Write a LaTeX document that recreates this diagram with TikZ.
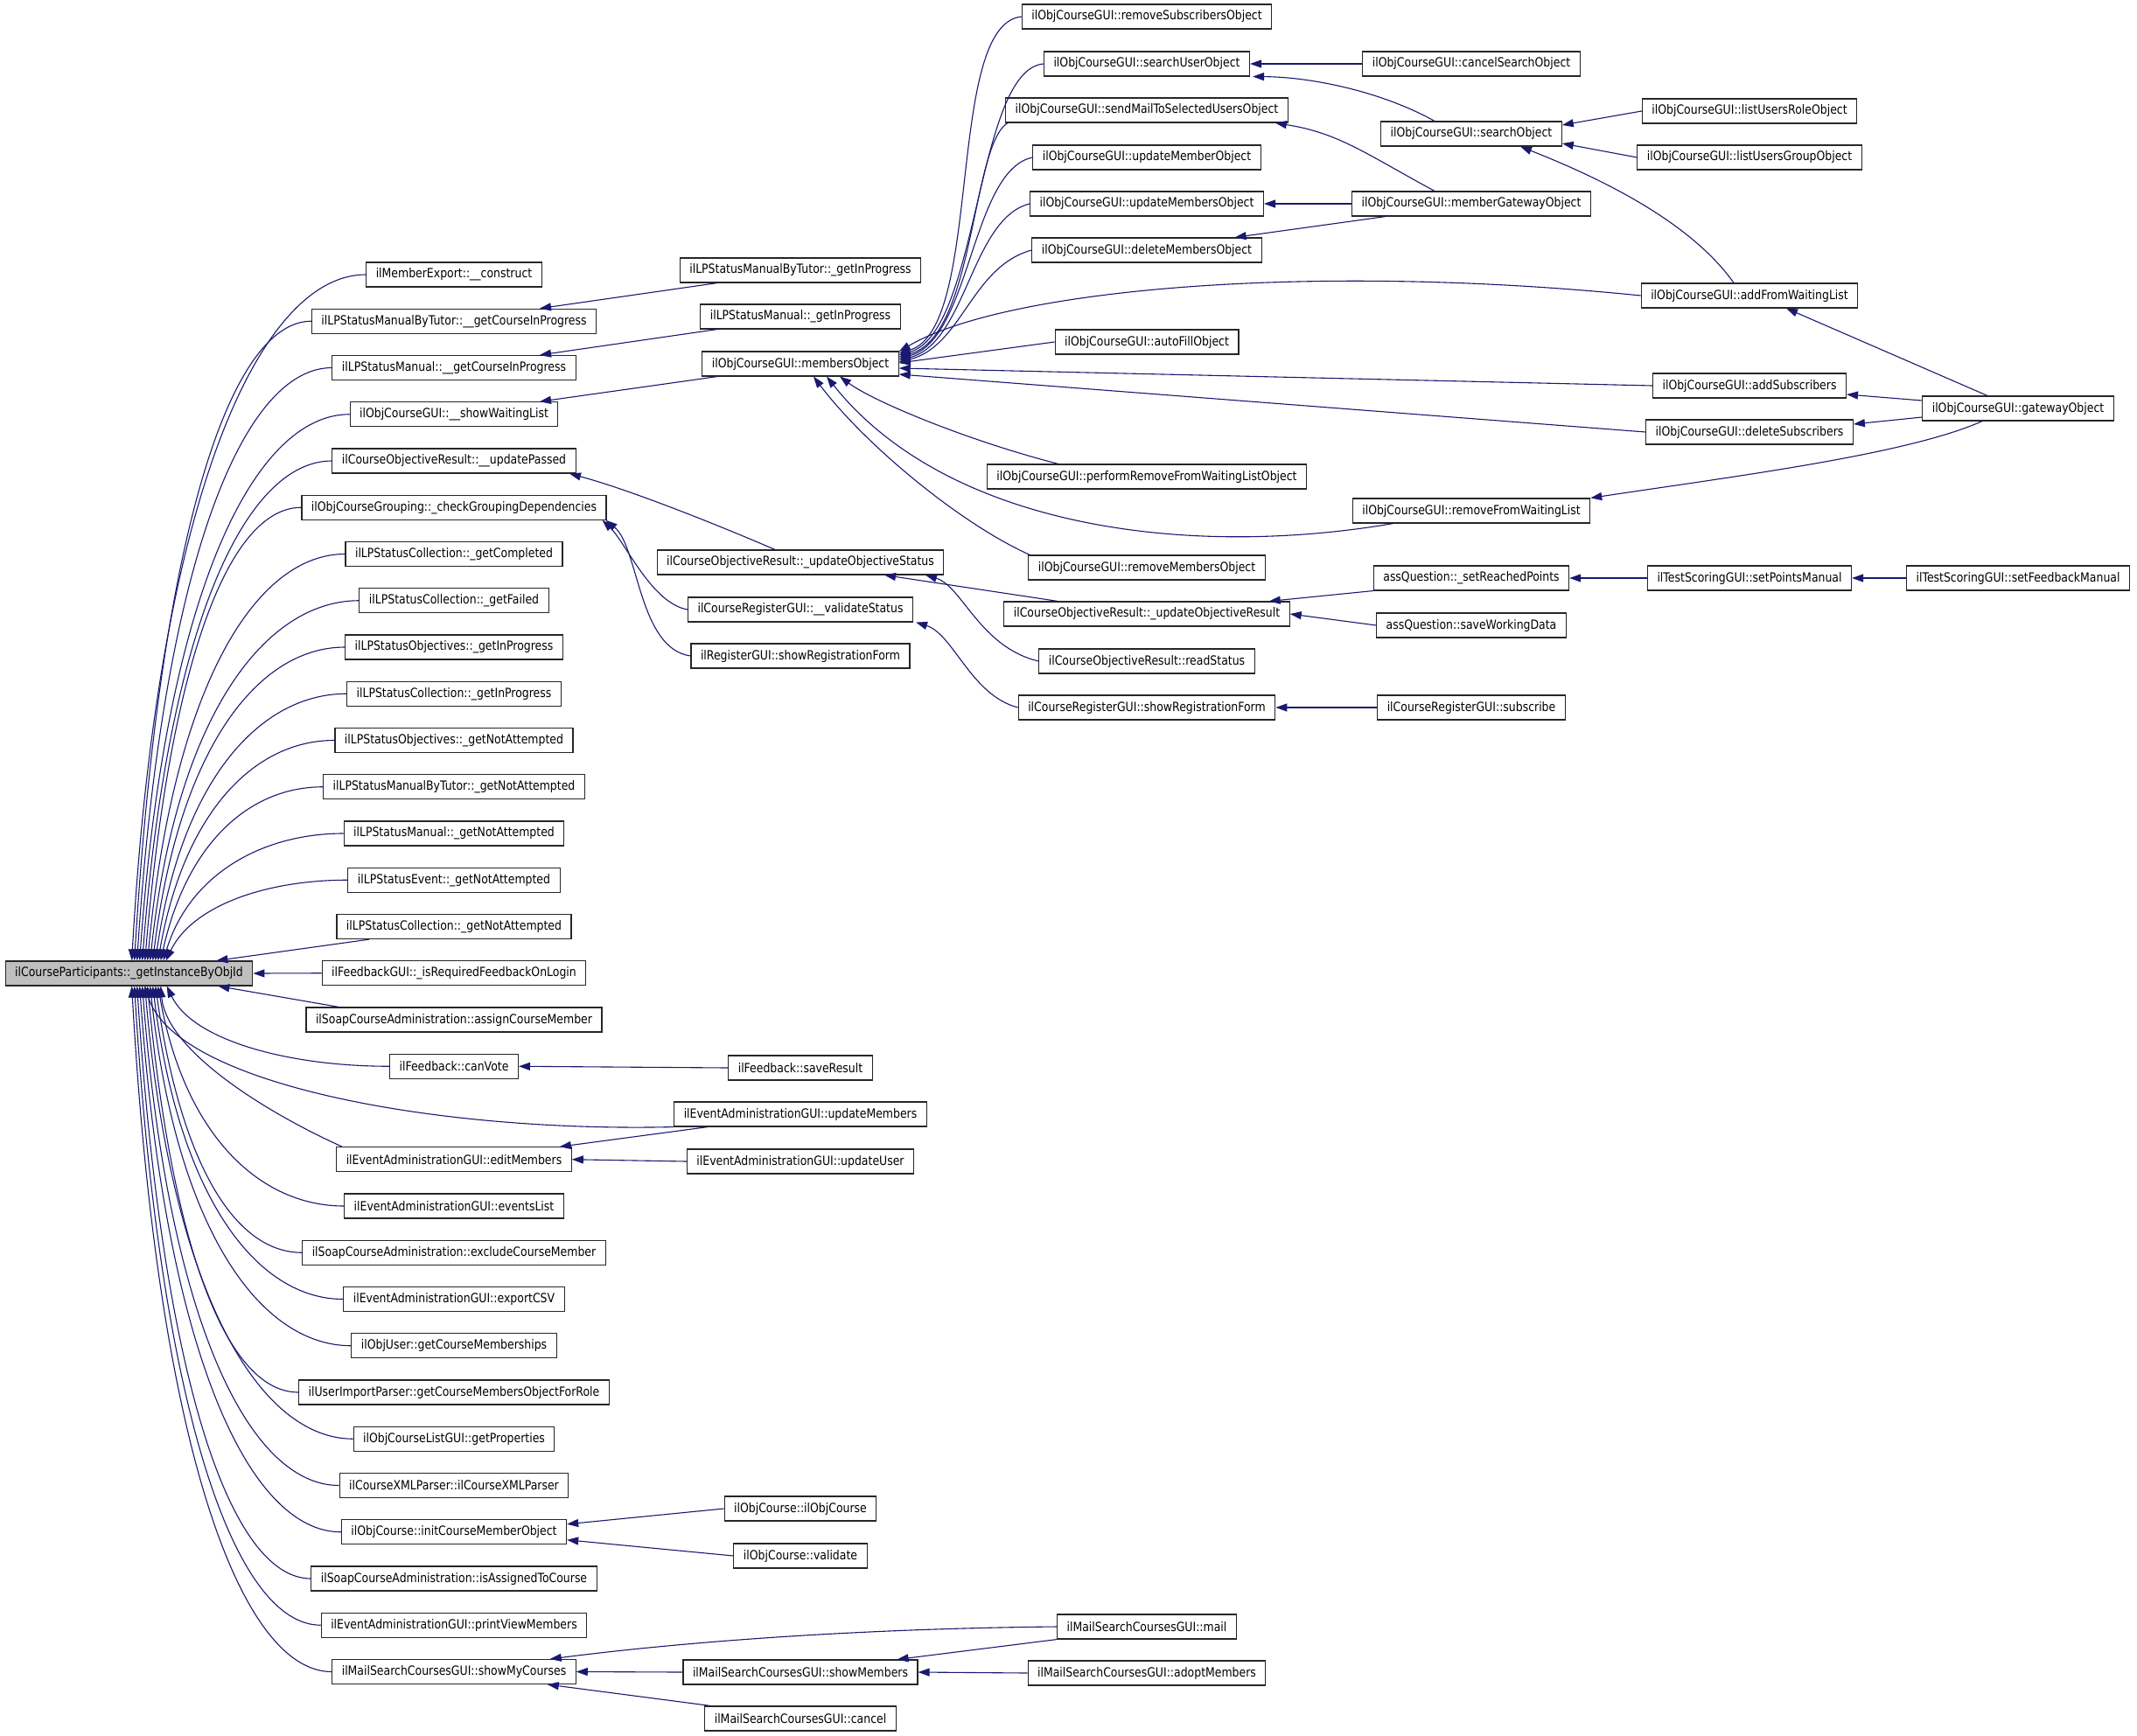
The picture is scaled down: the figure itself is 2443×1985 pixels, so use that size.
\documentclass[tikz,border=0pt]{standalone}
\usepackage{fontspec}
\setmainfont{DejaVu Sans}[FakeStretch=0.86]
\usetikzlibrary{arrows.meta,calc}
\definecolor{edgecol}{HTML}{191970}
\definecolor{rootfill}{HTML}{BFBFBF}
\tikzset{
  box/.style={draw=black!85, line width=1.1pt, fill=white, minimum height=28pt,
    inner xsep=11pt, inner ysep=0pt, font=\fontsize{14.5}{16}\selectfont},
  e/.style={draw=edgecol, line width=1.1pt, -{Triangle[length=13pt,width=9pt,fill=edgecol]}}
}
\newcommand\fan[4]{\draw[e] let \p1=(#1.west), \p2=([xshift=#3pt]root.#2 west) in
  (\p1) .. controls ({\x1-0.45*(\x1-\x2)},\y1) and ({\x2+#4pt},{\y2+0.68*(\y1-\y2)}) .. (\p2);}
\begin{document}
\begin{tikzpicture}[x=1pt,y=-1pt]
\fill[white] (0,0) rectangle (2443,1985);
\useasboundingbox (0,0) rectangle (2443,1985);
% root
\node[box,fill=rootfill] (root) at (147.5,1113) {ilCourseParticipants::\_getInstanceByObjId};
% column 1
\node[box] (c0) at (519,314) {ilMemberExport::\_\_construct};
\node[box] (c1) at (519,367.25) {ilLPStatusManualByTutor::\_\_getCourseInProgress};
\node[box] (c2) at (519,420.5) {ilLPStatusManual::\_\_getCourseInProgress};
\node[box] (c3) at (519,473.75) {ilObjCourseGUI::\_\_showWaitingList};
\node[box] (c4) at (519,527) {ilCourseObjectiveResult::\_\_updatePassed};
\node[box] (c5) at (519,580.25) {ilObjCourseGrouping::\_checkGroupingDependencies};
\node[box] (c6) at (519,633.5) {ilLPStatusCollection::\_getCompleted};
\node[box] (c7) at (519,686.75) {ilLPStatusCollection::\_getFailed};
\node[box] (c8) at (519,740) {ilLPStatusObjectives::\_getInProgress};
\node[box] (c9) at (519,793.25) {ilLPStatusCollection::\_getInProgress};
\node[box] (c10) at (519,846.5) {ilLPStatusObjectives::\_getNotAttempted};
\node[box] (c11) at (519,899.75) {ilLPStatusManualByTutor::\_getNotAttempted};
\node[box] (c12) at (519,953) {ilLPStatusManual::\_getNotAttempted};
\node[box] (c13) at (519,1006.25) {ilLPStatusEvent::\_getNotAttempted};
\node[box] (c14) at (519,1059.5) {ilLPStatusCollection::\_getNotAttempted};
\node[box] (c15) at (519,1112.75) {ilFeedbackGUI::\_isRequiredFeedbackOnLogin};
\node[box] (c16) at (519,1166) {ilSoapCourseAdministration::assignCourseMember};
\node[box] (c17) at (519,1219.25) {ilFeedback::canVote};
\node[box] (c19) at (519,1325.75) {ilEventAdministrationGUI::editMembers};
\node[box] (c20) at (519,1379) {ilEventAdministrationGUI::eventsList};
\node[box] (c21) at (519,1432.25) {ilSoapCourseAdministration::excludeCourseMember};
\node[box] (c22) at (519,1485.5) {ilEventAdministrationGUI::exportCSV};
\node[box] (c23) at (519,1538.75) {ilObjUser::getCourseMemberships};
\node[box] (c24) at (519,1592) {ilUserImportParser::getCourseMembersObjectForRole};
\node[box] (c25) at (519,1645.25) {ilObjCourseListGUI::getProperties};
\node[box] (c26) at (519,1698.5) {ilCourseXMLParser::ilCourseXMLParser};
\node[box] (c27) at (519,1751.75) {ilObjCourse::initCourseMemberObject};
\node[box] (c28) at (519,1805) {ilSoapCourseAdministration::isAssignedToCourse};
\node[box] (c29) at (519,1858.25) {ilEventAdministrationGUI::printViewMembers};
\node[box] (c30) at (519,1911.5) {ilMailSearchCoursesGUI::showMyCourses};
% column 2
\node[box] (mbtGIP) at (915,309) {ilLPStatusManualByTutor::\_getInProgress};
\node[box] (manGIP) at (915,362) {ilLPStatusManual::\_getInProgress};
\node[box] (members) at (915,416) {ilObjCourseGUI::membersObject};
\node[box] (updObjStatus) at (915,643) {ilCourseObjectiveResult::\_updateObjectiveStatus};
\node[box] (validateStatus) at (915,697) {ilCourseRegisterGUI::\_\_validateStatus};
\node[box] (regShowForm) at (915,750) {ilRegisterGUI::showRegistrationForm};
\node[box] (saveResult) at (915,1221) {ilFeedback::saveResult};
\node[box] (updMembers) at (915,1274) {ilEventAdministrationGUI::updateMembers};
\node[box] (updUser) at (915,1328) {ilEventAdministrationGUI::updateUser};
\node[box] (objCourse) at (915,1725) {ilObjCourse::ilObjCourse};
\node[box] (validate) at (915,1779) {ilObjCourse::validate};
\node[box] (showMembers) at (915,1912) {ilMailSearchCoursesGUI::showMembers};
\node[box] (cancel) at (915,1965) {ilMailSearchCoursesGUI::cancel};
% column 3
\node[box] (removeSubs) at (1311,19) {ilObjCourseGUI::removeSubscribersObject};
\node[box] (searchUser) at (1311,73) {ilObjCourseGUI::searchUserObject};
\node[box] (sendMail) at (1311,126) {ilObjCourseGUI::sendMailToSelectedUsersObject};
\node[box] (updMember) at (1311,180) {ilObjCourseGUI::updateMemberObject};
\node[box] (updMembersObj) at (1311,233) {ilObjCourseGUI::updateMembersObject};
\node[box] (delMembers) at (1311,286) {ilObjCourseGUI::deleteMembersObject};
\node[box] (autoFill) at (1311,391) {ilObjCourseGUI::autoFillObject};
\node[box] (perfRemove) at (1311,545) {ilObjCourseGUI::performRemoveFromWaitingListObject};
\node[box] (removeMembers) at (1311,649) {ilObjCourseGUI::removeMembersObject};
\node[box] (updObjResult) at (1311,702) {ilCourseObjectiveResult::\_updateObjectiveResult};
\node[box] (readStatus) at (1311,756) {ilCourseObjectiveResult::readStatus};
\node[box] (crShowForm) at (1311,809) {ilCourseRegisterGUI::showRegistrationForm};
\node[box] (mail) at (1311,1860) {ilMailSearchCoursesGUI::mail};
\node[box] (adopt) at (1311,1913) {ilMailSearchCoursesGUI::adoptMembers};
% column 4
\node[box] (cancelSearch) at (1682,73) {ilObjCourseGUI::cancelSearchObject};
\node[box] (searchObj) at (1682,153) {ilObjCourseGUI::searchObject};
\node[box] (memberGateway) at (1682,233) {ilObjCourseGUI::memberGatewayObject};
\node[box] (removeWL) at (1682,584) {ilObjCourseGUI::removeFromWaitingList};
\node[box] (setReached) at (1682,661) {assQuestion::\_setReachedPoints};
\node[box] (saveWorking) at (1682,715) {assQuestion::saveWorkingData};
\node[box] (subscribe) at (1682,809) {ilCourseRegisterGUI::subscribe};
% column 5
\node[box] (listRole) at (2000,127) {ilObjCourseGUI::listUsersRoleObject};
\node[box] (listGroup) at (2000,180) {ilObjCourseGUI::listUsersGroupObject};
\node[box] (addWL) at (2000,338) {ilObjCourseGUI::addFromWaitingList};
\node[box] (addSubs) at (2000,441) {ilObjCourseGUI::addSubscribers};
\node[box] (delSubs) at (2000,494) {ilObjCourseGUI::deleteSubscribers};
\node[box] (setPoints) at (2000,661) {ilTestScoringGUI::setPointsManual};
% column 6
\node[box] (gateway) at (2307,467) {ilObjCourseGUI::gatewayObject};
\node[box] (setFeedback) at (2307,661) {ilTestScoringGUI::setFeedbackManual};

% ---- root fan (top)
\fan{c0}{north}{145}{30}
\fan{c1}{north}{148}{30}
\fan{c2}{north}{151}{30}
\fan{c3}{north}{154}{30}
\fan{c4}{north}{157}{30}
\fan{c5}{north}{160}{30}
\fan{c6}{north}{163}{30}
\fan{c7}{north}{166}{30}
\fan{c8}{north}{169}{30}
\fan{c9}{north}{172}{30}
\fan{c10}{north}{175}{30}
\fan{c11}{north}{178}{30}
\fan{c12}{north}{181}{30}
\fan{c13}{north}{184}{30}
\draw[e] ($(c14.south west)+(38,0)$) -- ($(root.north east)+(-42,0)$);
\draw[e] (c15.west) -- (root.east);
\draw[e] ($(c16.north west)+(38,0)$) -- ($(root.south east)+(-40,0)$);
\fan{c17}{south}{185}{30}
\draw[e] (updMembers.south west) .. controls (500,1295) and (200,1240) .. ($(root.south west)+(160,0)$);
\draw[e] ($(c19.north west)+(7,0)$) .. controls (300,1270) and (190,1200) .. ($(root.south west)+(178,0)$);
\fan{c20}{south}{175}{30}
\fan{c21}{south}{172}{30}
\fan{c22}{south}{169}{30}
\fan{c23}{south}{166}{30}
\fan{c24}{south}{163}{30}
\fan{c25}{south}{160}{30}
\fan{c26}{south}{157}{30}
\fan{c27}{south}{154}{30}
\fan{c28}{south}{151}{30}
\fan{c29}{south}{148}{30}
\fan{c30}{south}{145}{30}

% ---- column 2 -> column 1
\draw[e] ($(mbtGIP.south)+(-95,0)$) -- ($(c1.north)+(98,0)$);
\draw[e] ($(manGIP.south)+(-95,0)$) -- ($(c2.north)+(98,0)$);
\draw[e] ($(members.south)+(-95,0)$) -- ($(c3.north)+(98,0)$);
\draw[e] ($(updObjStatus.north)+(-29,0)$) .. controls (820,600) and (720,560) .. ($(c4.south)+(132,0)$);
\draw[e] (validateStatus.west) .. controls (745,690) and (715,620) .. ($(c5.south east)+(-5,0)$);
\draw[e] (regShowForm.west) .. controls (730,742) and (730,625) .. ($(c5.south east)+(-1,0)$);
\draw[e] (saveResult.west) -- (c17.east);
\draw[e] ($(updMembers.south west)+(39,0)$) -- ($(c19.north east)+(-14,0)$);
\draw[e] (updUser.west) -- (c19.east);
\draw[e] (objCourse.west) -- ($(c27.east)+(0,-9)$);
\draw[e] (validate.west) -- ($(c27.east)+(0,9)$);
\draw[e] (mail.west) .. controls (1000,1862) and (800,1875) .. ($(c30.north east)+(-30,0)$);
\draw[e] (showMembers.west) -- (c30.east);
\draw[e] ($(cancel.north west)+(7,0)$) -- ($(c30.south east)+(-33,0)$);

% ---- column 3 -> column 2
\draw[e] (removeSubs.west) .. controls (1080,28) and (1125,375) .. ($(members.east)+(0,-12)$);
\draw[e] (searchUser.west) .. controls (1115,80) and (1120,380) .. ($(members.east)+(0,-10)$);
\draw[e] ($(sendMail.south west)+(3,0)$) .. controls (1110,165) and (1115,385) .. ($(members.east)+(0,-8)$);
\draw[e] (updMember.west) .. controls (1110,195) and (1110,388) .. ($(members.east)+(0,-6)$);
\draw[e] (updMembersObj.west) .. controls (1110,250) and (1105,392) .. ($(members.east)+(0,-4)$);
\draw[e] (delMembers.west) .. controls (1110,305) and (1100,396) .. ($(members.east)+(0,-2)$);
\draw[e] (addWL.west) .. controls (1500,300) and (1150,330) .. ($(members.east)+(0,-14)$);
\draw[e] (autoFill.west) -- ($(members.east)+(0,-1)$);
\draw[e] (addSubs.west) -- ($(members.east)+(0,5)$);
\draw[e] (delSubs.west) -- ($(members.east)+(0,12)$);
\draw[e] ($(perfRemove.north west)+(82,0)$) .. controls (1110,505) and (1000,460) .. ($(members.south)+(45,0)$);
\draw[e] ($(removeMembers.north west)+(2,0)$) .. controls (1100,600) and (990,510) .. ($(members.south)+(15,0)$);
\draw[e] ($(removeWL.south west)+(47,0)$) .. controls (1350,640) and (1080,600) .. ($(members.south)+(30,0)$);
\draw[e] ($(updObjResult.north west)+(62,0)$) -- ($(updObjStatus.south)+(96,0)$);
\draw[e] (readStatus.west) .. controls (1120,740) and (1100,670) .. ($(updObjStatus.south)+(143,0)$);
\draw[e] (crShowForm.west) .. controls (1110,795) and (1090,725) .. ($(validateStatus.south east)+(3,0)$);

% ---- column 4 -> column 3
\draw[e] (cancelSearch.west) -- (searchUser.east);
\draw[e] ($(searchObj.north)+(-42,0)$) .. controls (1580,105) and (1500,88) .. ($(searchUser.south east)+(3,0)$);
\draw[e] ($(memberGateway.north)+(-42,0)$) .. controls (1560,175) and (1530,152) .. ($(sendMail.south east)+(-15,0)$);
\draw[e] (memberGateway.west) -- (updMembersObj.east);
\draw[e] ($(memberGateway.south west)+(39,0)$) -- ($(delMembers.north east)+(-31,0)$);
\draw[e] (setReached.south west) -- ($(updObjResult.north east)+(-24,0)$);
\draw[e] (saveWorking.west) -- (updObjResult.east);
\draw[e] (subscribe.west) -- (crShowForm.east);
\draw[e] (mail.south west) -- ($(showMembers.north east)+(-24,0)$);
\draw[e] (adopt.west) -- (showMembers.east);

% ---- column 5 -> column 4
\draw[e] (listRole.west) -- ($(searchObj.east)+(0,-10)$);
\draw[e] (listGroup.west) -- ($(searchObj.east)+(0,11)$);
\draw[e] ($(addWL.north)+(-18,0)$) .. controls (1930,250) and (1820,200) .. ($(searchObj.south)+(56,0)$);
\draw[e] (setPoints.west) -- (setReached.east);

% ---- column 6 -> column 5
\draw[e] ($(gateway.north)+(-35,0)$) -- ($(addWL.south)+(42,0)$);
\draw[e] ($(gateway.west)+(0,-9)$) -- ($(addSubs.east)+(0,10)$);
\draw[e] ($(gateway.west)+(0,10)$) -- ($(delSubs.east)+(0,-9)$);
\draw[e] ($(gateway.south)+(-41,0)$) .. controls (2180,520) and (1980,545) .. (removeWL.north east);
\draw[e] (setFeedback.west) -- (setPoints.east);
\end{tikzpicture}
\end{document}
